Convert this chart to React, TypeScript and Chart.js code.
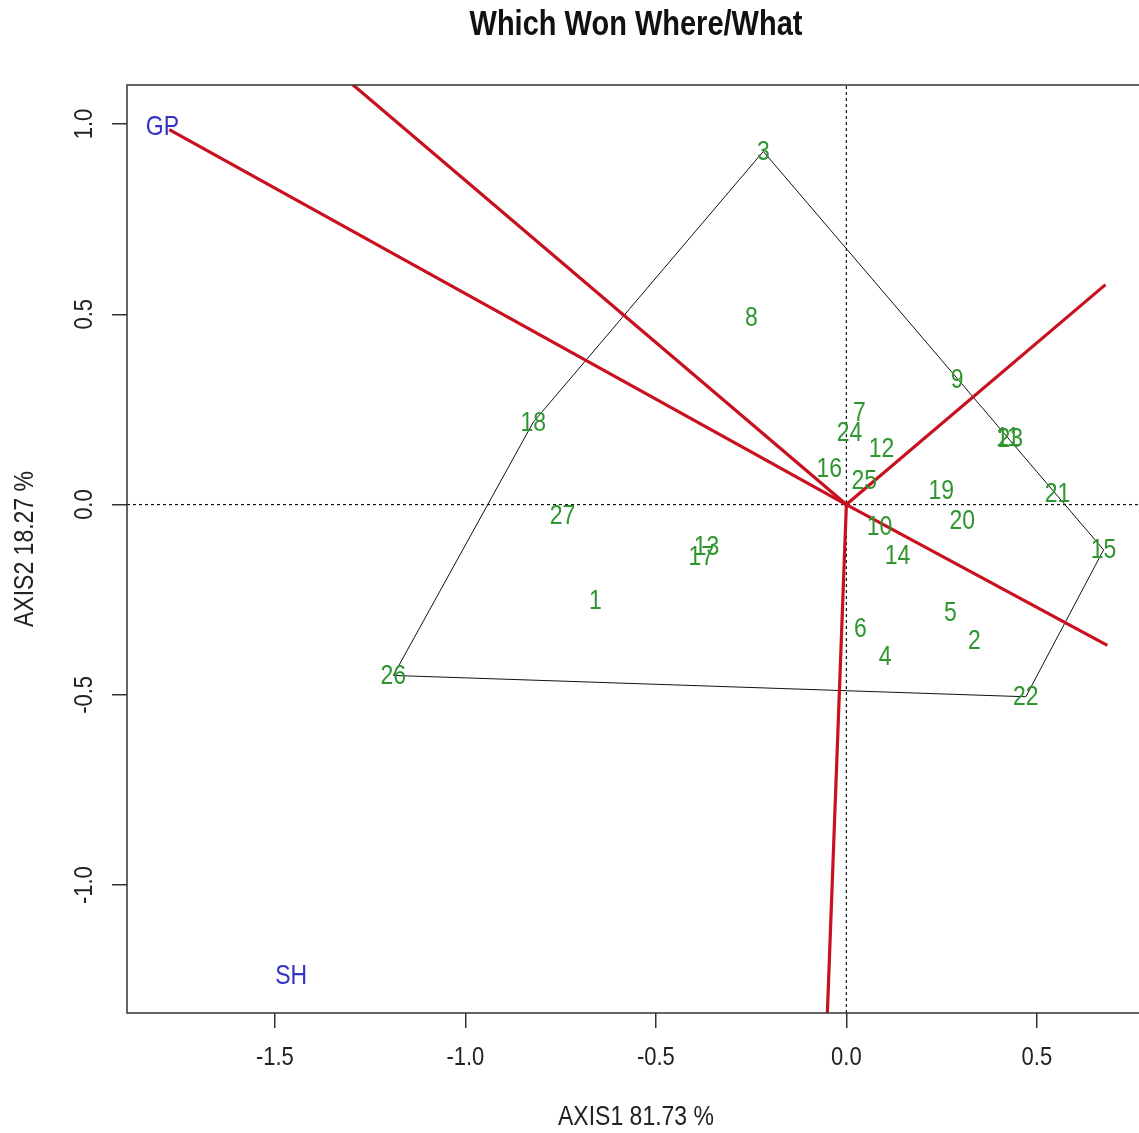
import React, { useEffect, useRef } from 'react';
import { Chart, registerables } from 'chart.js';

Chart.register(...registerables);

// ---- data ----
const genotypeNames = ['1', '2', '3', '4', '5', '6', '7', '8', '9', '10', '11', '12', '13', '14', '15', '16', '17', '18', '19', '20', '21', '22', '23', '24', '25', '26', '27'];
const genotypeX = [-0.659, 0.336, -0.218, 0.102, 0.273, 0.037, 0.034, -0.249, 0.291, 0.087, 0.424, 0.092, -0.367, 0.134, 0.675, -0.045, -0.381, -0.822, 0.249, 0.304, 0.554, 0.471, 0.430, 0.008, 0.047, -1.189, -0.745];
const genotypeY = [-0.252, -0.357, 0.928, -0.399, -0.284, -0.326, 0.242, 0.491, 0.329, -0.058, 0.176, 0.147, -0.110, -0.134, -0.119, 0.095, -0.137, 0.216, 0.037, -0.042, 0.029, -0.505, 0.173, 0.189, 0.063, -0.449, -0.029];

const envNames = ['GP', 'SH'];
const envX = [-1.795, -1.457];
const envY = [0.993, -1.238];

// polygon (convex hull) through these genotypes
const hullOrder = ['3', '15', '22', '26', '18', '3'];

// rays from the origin, perpendicular to the polygon sides
const rayEndX = [-1.45, -1.777, 0.685, 0.680, -0.056];
const rayEndY = [1.235, 0.985, -0.370, 0.578, -1.5];

const xTicks = [-1.5, -1.0, -0.5, 0.0, 0.5];
const yTicks = [-1.0, -0.5, 0.0, 0.5, 1.0];
const xRange = [-1.888, 0.768];
const yRange = [-1.336, 1.1025];

const titleText = 'Which Won Where/What';
const xTitle = 'AXIS1 81.73 %';
const yTitle = 'AXIS2 18.27 %';

const FONT = 'Arial, "Liberation Sans", sans-serif';
const RED = '#C8101E';
const GREEN = '#2F962F';
const BLUE = '#3232C4';
const STRETCH = 1.18;

function drawText(ctx: any, text: string, x: number, y: number, rot: number, font: string, color: string) {
  ctx.save();
  ctx.translate(x, y);
  if (rot) ctx.rotate(rot);
  ctx.scale(1, STRETCH);
  ctx.font = font;
  ctx.fillStyle = color;
  ctx.textAlign = 'center';
  ctx.textBaseline = 'middle';
  ctx.fillText(text, 0, 0);
  ctx.restore();
}

const textPlugin = {
  id: 'textPlugin',
  afterDraw(chart: any) {
    const { ctx, chartArea, scales } = chart;
    const xs = scales.x;
    const ys = scales.y;
    ctx.save();
    // frame (left, top, bottom)
    ctx.strokeStyle = '#333';
    ctx.lineWidth = 1.5;
    ctx.beginPath();
    ctx.moveTo(chartArea.right + 5, chartArea.top);
    ctx.lineTo(chartArea.left, chartArea.top);
    ctx.lineTo(chartArea.left, chartArea.bottom);
    ctx.lineTo(chartArea.right + 5, chartArea.bottom);
    ctx.stroke();
    ctx.restore();

    const labelFont = `23px ${FONT}`;
    genotypeNames.forEach((n, i) => {
      drawText(ctx, n, xs.getPixelForValue(genotypeX[i]), ys.getPixelForValue(genotypeY[i]) + 1, 0, labelFont, GREEN);
    });
    envNames.forEach((n, i) => {
      drawText(ctx, n, xs.getPixelForValue(envX[i]), ys.getPixelForValue(envY[i]) + 1, 0, labelFont, BLUE);
    });

    const tickFont = `22px ${FONT}`;
    xs.ticks.forEach((t: any) => {
      drawText(ctx, Number(t.value).toFixed(1), xs.getPixelForValue(t.value), 1058, 0, tickFont, '#222');
    });
    ys.ticks.forEach((t: any) => {
      drawText(ctx, Number(t.value).toFixed(1), 85, ys.getPixelForValue(t.value), -Math.PI / 2, tickFont, '#222');
    });

    const titleFont = `23px ${FONT}`;
    const cx = (chartArea.left + chartArea.right) / 2 + 3;
    drawText(ctx, xTitle, cx, 1118, 0, titleFont, '#222');
    drawText(ctx, yTitle, 26, (chartArea.top + chartArea.bottom) / 2, -Math.PI / 2, titleFont, '#222');

    drawText(ctx, titleText, cx, 26, 0, `bold 29px ${FONT}`, '#111');
  },
};

export default function App() {
  const ref = useRef<HTMLCanvasElement | null>(null);

  useEffect(() => {
    document.body.style.margin = '0';
    const canvas = ref.current;
    if (!canvas) return;

    const idx = (n: string) => genotypeNames.indexOf(n);
    const hullData = hullOrder.map((n) => ({ x: genotypeX[idx(n)], y: genotypeY[idx(n)] }));

    const rayDatasets = rayEndX.map((ex, i) => ({
      label: 'ray' + i,
      data: [{ x: 0, y: 0 }, { x: ex, y: rayEndY[i] }],
      showLine: true,
      borderColor: RED,
      borderWidth: 3.2,
      pointRadius: 0,
      order: 3,
    }));

    const chart = new Chart(canvas, {
      type: 'scatter',
      data: {
        datasets: [
          {
            label: 'vdot',
            data: [{ x: 0, y: yRange[0] }, { x: 0, y: yRange[1] }],
            showLine: true,
            borderColor: '#111',
            borderWidth: 1.2,
            borderDash: [3, 3],
            pointRadius: 0,
            order: 6,
          },
          {
            label: 'hdot',
            data: [{ x: xRange[0], y: 0 }, { x: xRange[1], y: 0 }],
            showLine: true,
            borderColor: '#111',
            borderWidth: 1.2,
            borderDash: [3, 3],
            pointRadius: 0,
            order: 6,
          },
          {
            label: 'hull',
            data: hullData,
            showLine: true,
            borderColor: '#111',
            borderWidth: 1,
            pointRadius: 0,
            order: 5,
          },
          ...rayDatasets,
          {
            label: 'genotypes',
            data: genotypeNames.map((_, i) => ({ x: genotypeX[i], y: genotypeY[i] })),
            pointRadius: 0,
            order: 1,
          },
          {
            label: 'environments',
            data: envNames.map((_, i) => ({ x: envX[i], y: envY[i] })),
            pointRadius: 0,
            order: 1,
          },
        ],
      },
      options: {
        responsive: false,
        animation: false,
        devicePixelRatio: 1,
        layout: { padding: { top: 85, left: 0, right: 0, bottom: 0 } },
        plugins: {
          legend: { display: false },
          title: { display: false },
          tooltip: { enabled: false },
        },
        scales: {
          x: {
            type: 'linear',
            min: xRange[0],
            max: xRange[1],
            afterBuildTicks: (s: any) => {
              s.ticks = xTicks.map((v) => ({ value: v }));
            },
            afterFit: (s: any) => {
              s.height = 120;
            },
            grid: {
              display: true,
              drawOnChartArea: false,
              drawTicks: true,
              tickLength: 15,
              color: '#333',
              lineWidth: 1.5,
            },
            border: { display: false },
            ticks: { display: false },
          },
          y: {
            type: 'linear',
            min: yRange[0],
            max: yRange[1],
            afterBuildTicks: (s: any) => {
              s.ticks = yTicks.map((v) => ({ value: v }));
            },
            afterFit: (s: any) => {
              s.width = 127;
            },
            grid: {
              display: true,
              drawOnChartArea: false,
              drawTicks: true,
              tickLength: 15,
              color: '#333',
              lineWidth: 1.5,
            },
            border: { display: false },
            ticks: { display: false },
          },
        },
      },
      plugins: [textPlugin],
    } as any);

    return () => chart.destroy();
  }, []);

  return (
    <div style={{ position: 'absolute', left: 0, top: 0, width: 1139, height: 1133, background: '#fff' }}>
      <canvas ref={ref} width={1139} height={1133} style={{ display: 'block' }} />
    </div>
  );
}
